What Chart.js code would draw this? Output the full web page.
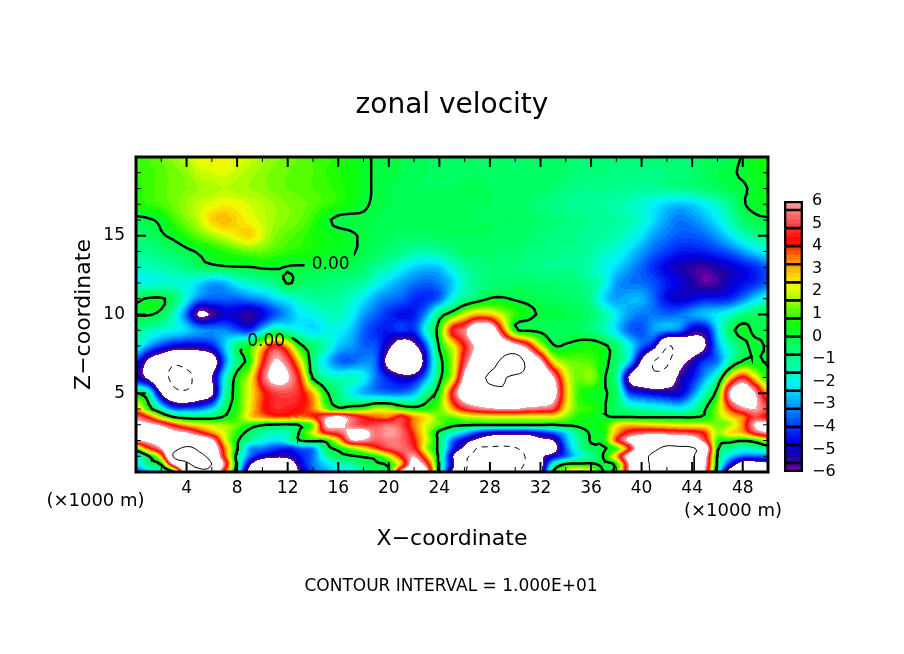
<!DOCTYPE html>
<html>
<head>
<meta charset="utf-8">
<title>zonal velocity</title>
<script src="https://cdn.jsdelivr.net/npm/chart.js@4"></script>
<style>
  html, body { margin: 0; background: #fff; }
  #wrap { position: relative; width: 904px; height: 654px; overflow: hidden; }
  #field { position: absolute; left: 0; top: 0; }
  #bar { position: absolute; left: 770px; top: 190px; }
</style>
</head>
<body>
<div id="wrap">
  <canvas id="field" width="904" height="654"></canvas>
  <canvas id="bar" width="70" height="295"></canvas>
</div>
<script>
// grid, x and z in km
const xCoords = [0,1,2,3,4,5,6,7,8,9,10,11,12,13,14,15,16,17,18,19,20,21,22,23,24,25,26,27,28,29,30,31,32,33,34,35,36,37,38,39,40,41,42,43,44,45,46,47,48,49,50];
const zCoords = [0,0.5,1,1.5,2,2.5,3,3.5,4,5,6,7,8,9,10,11,12,13,14,15,16,17,18,19,20];

// one row per zCoords entry, 51 values (x = 0..50)
const z00 = [-4,-2.8,-1.6,.1,8,9.6,9,4,-1,-7, -9,-9.5,-8.5,-5.6,-3.8,-3,-2.4,-2.4,-1.2,-.6, -.1,6.4,8,6.5,-.4,-6,-9.8,-10.5,-11,-11.2, -10.4,-9,-6.4,.1,2,3,2.4,-.1,.5,6, 9,10.3,11,11,10.5,6,-1,-7,-8,-8, -7.5];
const z05 = [-2.4,-.6,.2,6.5,9.5,10.5,10,5.5,-.4,-5.5, -8,-8.5,-7.6,-5,-3.4,-2.4,-1.6,-1.2,-.4,-.1, .3,3,7,5,-.6,-5,-9.6,-10.6,-11,-11.2, -10.8,-9.5,-7,-1.8,.1,.2,.2,-.2,.4,6, 9,10.5,11.5,11.5,10.5,6.5,-.3,-4.4,-7,-7, -6.5];
const z10 = [-2,-.1,3,10.5,11,10.5,9,4,-.5,-3.4, -5,-5.5,-5.5,-4.4,-3.4,-1.4,-.4,-.1,.1,.5, 2,4.4,6,3,-.4,-5.5,-9.4,-10.6,-11,-11, -10.8,-9.6,-6.5,-5,-3.6,-2,-1,.1,3,7, 9,10.6,11,11,10.4,7,-.2,-2.4,-3.5,-3.6, -3.3];
const z15 = [1,4,6,9,10.5,9.5,8,3.6,.1,-3, -3.4,-4,-4.4,-3.6,-3.2,-.5,.3,1.4,2.4,3.8, 5,5.4,4.6,1.6,-.4,-4,-6.5,-10.2,-10.5,-10.6, -10.2,-9,-8,-7,-3.6,-1.4,-.3,-.1,.8,4, 8,9.5,10.5,10.5,10.3,8,.3,-1,-1.6,-1.3, -1];
const z20 = [6,6.5,7,7.5,8,8,6.5,2.4,.2,-1.2, -1.8,-2.4,-1.6,.05,.3,.3,2.5,5.8,5.8,5.2, 5.5,5.3,4.2,2,-.4,-3.5,-5,-6.5,-7.5,-8, -8,-7.5,-6.5,-6,-3,-1.2,.1,.4,4,6.5, 8,8.5,8.5,8,7.5,5,.8,.4,.1,.5, 2];
const z25 = [7.5,8,7.5,6.5,6,4.6,3.2,2,.7,-.4, -1.2,-1.4,-1.4,.2,2,4.4,5,6.4,6.6,5.4, 6,5.4,3.8,1.8,-.3,-1.4,-2.6,-4,-4.8,-5, -5,-5,-4.4,-3.6,-2.4,-.6,.1,.4,3,4.6, 5.2,5.4,5.2,5,4.8,4,1.6,2.6,3,5, 6];
const z30 = [6.5,6.5,5.6,4,2.8,2.2,1.8,1.6,1.2,.6, .1,-.1,-.2,.1,1.2,6,6.5,5.5,4.8,5, 5.4,5,3.4,2,1.2,.3,.2,.1,.1,.1, .1,.1,.1,.05,.2,.2,.3,.6,2.2,2.8, 2.6,2.4,2.2,2,2,2,1.2,1.6,3.4,6.2, 7];
const z35 = [5.6,4,1.6,-.1,-.6,-.7,-.5,.1,.9,2.6, 3.3,3.8,3.8,3.5,4,5.6,6.4,5.2,4.2,3.6, 3.4,4.6,3.2,2.4,1.2,1.2,1.8,2,2.2,2.2, 2.2,2.2,2.2,2.2,1.4,.6,.3,.1,-.05,-.05, -.1,-.1,-.1,-.1,-.1,.2,1.4,2.6,3.4,5, 4];
const z40 = [3,.6,-1.6,-3.5,-3.6,-3.4,-2.4,-.5,.7,2.4, 4,4.6,4.5,4.2,3.4,1.4,.2,.6,.9,1.8, 1.7,.9,.4,.6,1.2,3,4.6,5.4,5.8,6, 6,5.6,5.4,5,2.4,1,.8,.1,-.5,-1, -1.4,-1.6,-1.8,-2,-1.4,-.1,1.5,4,5.6,6, 5];
const z50 = [.1,-1.2,-6,-9,-9.5,-8,-6.5,-1.6,.6,2.2, 3.9,4.8,5,4.5,3,.3,-.8,-2,-2.8,-3.2, -3.4,-3.4,-2.8,-.8,.6,4.5,7.5,8.5,9,9.5, 9.5,9,8.5,7,3,.8,.3,.05,-.5,-3.8, -4.4,-4.8,-5,-5,-3.4,-1.4,.6,6.2,8,6, 3];
const z60 = [-5,-6.5,-9,-10.5,-10.5,-9,-6,-2,.5,2, 5,6.8,6.2,4,-.2,-1.2,-1.6,-1.4,-2,-3.4, -4.4,-5.2,-5,-3,-.3,1.8,6.5,9,10.3,10.2, 9.5,9.5,9,6.2,2.5,1.2,1.6,.1,-1,-6.2, -8,-9,-8,-5.5,-4.5,-3,-1.2,2.5,4.5,2.4, .6];
const z70 = [-4,-6.5,-8,-9.5,-9,-8.5,-7.5,-3.5,-.8,.6, 4,6.2,5.2,2.4,-.8,-2.4,-3.5,-3.6,-3.2,-3.6, -7,-9,-9,-4.4,-.5,1.5,5,7.5,9,10.5, 12,9,6.5,2.5,1.4,1.2,1,.3,-.6,-2.4, -6.3,-10.2,-10.6,-7,-5.4,-4,-3.4,-1.2,.1,.2, -.1];
const z80 = [-1.6,-3,-4,-4.8,-5,-5,-4.4,-2.6,-.5,.6, 2.6,4.6,3,.3,-.6,-1.4,-2.6,-3,-3.6,-3.8, -5.5,-7.5,-6.5,-3.6,.2,2,4.4,6.5,8,8, 7,5,2,.1,.1,.3,.5,.2,-.6,-2, -3.6,-5,-9.9,-9,-7.5,-6.2,-3,-1.4,-.3,.2, -.1];
const z90 = [-1,-1.4,-1.8,-2,-2.4,-3,-3.2,-3.2,-3.8,-4.2, -2.4,-1,-1.6,-2,-2.4,-2,-2,-2.6,-3.6,-4.2, -4.4,-4,-4.2,-1.6,.6,4.5,5.6,8,8,4, .3,-.1,-.2,-.3,-.3,-.4,-.8,-1.4,-2.4,-3.6, -3.8,-3,-3,-3.4,-5,-5,-2.4,-.4,.3,-.2, -.2];
const z100 = [.05,.05,-.3,-1.6,-3.6,-6.4,-5.8,-5,-5.1,-5.6, -4.8,-3.8,-3,-2.2,-2,-1.6,-1.5,-2,-3,-3.6, -4.2,-4.6,-4.4,-3,-.6,.6,2,3,2.8,1.8, .8,.3,-.1,-.1,-.2,-.3,-.6,-1.2,-2.2,-3, -3.4,-3.4,-3.6,-3.4,-3,-2.6,-2.2,-1.6,-.8,-.5, -.2];
const z110 = [-.2,.1,.1,-.5,-2,-3.3,-3.6,-3.6,-3.6,-3.3, -3,-2.4,-2,-1.4,-1.2,-1.1,-1.2,-1.6,-2.2,-3, -3.4,-3.6,-4.2,-4.2,-3.6,-2,-1,-.5,.05,.1, -.1,-.2,-.3,-.4,-.5,-.6,-1,-2.4,-3,-2.8, -2.8,-3.6,-4.6,-5,-4.8,-4.4,-4.4,-4.2,-3.4,-2.4, -1.7];
const z120 = [-2,-1.9,-1.8,-1.8,-1.9,-2.4,-3,-2.8,-2,-1.6, -1.2,-.9,.1,-.5,-.6,-.7,-.8,-1,-1.2,-1.9, -2.5,-3,-3.4,-3.6,-3.3,-2.6,-1.5,-1,-.7,-.6, -.5,-.5,-.6,-.6,-.7,-.8,-1.1,-1.7,-3,-3.4, -3.5,-3.8,-4.4,-4.8,-5.3,-5.8,-5.6,-5,-4.6,-4.2, -3.6];
const z130 = [-1.7,-1.5,-1.3,-1.1,-.8,-.4,-.2,-.1,-.05,-.03, .1,.1,-.05,-.1,-.1,-.2,-.3,-.3,-.5,-1.1, -1.4,-2,-2.5,-2.7,-2.6,-1.8,-1.2,-.9,-.7,-.7, -.8,-.9,-1,-1,-1,-1.1,-1.4,-1.9,-2.4,-3, -3.6,-4.2,-4.8,-5.2,-5.5,-5.6,-5.3,-5,-4.6,-4.2, -3.6];
const z140 = [-1,-.9,-.7,-.5,-.2,.1,.4,.7,1,1.2, 1.2,1,.8,.7,.5,.3,.2,.1,-.2,-.4, -.7,-.9,-1.2,-1.3,-1.1,-.9,-.5,-.5,-.5,-.6, -.6,-.7,-.8,-.9,-1,-1,-1.2,-1.5,-1.8,-2.4, -3,-3.6,-4,-4.4,-4.4,-4.3,-4,-3.6,-3,-2.4, -2];
const z150 = [-.6,-.5,-.1,.2,.7,1.2,1.6,2,2.4,2.7, 2,1.4,1.1,.9,.6,.4,.3,.1,-.1,-.3, -.4,-.5,-.5,-.5,-.4,-.4,-.4,-.4,-.4,-.5, -.5,-.6,-.7,-.8,-.9,-1,-1.1,-1.2,-1.4,-1.7, -2.3,-3,-3.4,-3.7,-3.7,-3.5,-3,-2.3,-1.5,-1, -.8];
const z160 = [-.2,-.1,.2,.9,1.4,1.9,2.7,3,2.6,2.2, 1.9,1.6,1.4,1.2,.8,.2,-.2,-.2,-.1,-.2, -.3,-.3,-.3,-.3,-.4,-.3,-.3,-.4,-.4,-.4, -.4,-.5,-.6,-.7,-.8,-.9,-1,-1.1,-1.2,-1.4, -1.7,-2.4,-3,-3.4,-3.2,-2.8,-2.2,-1.4,-.6,-.2, -.1];
const z170 = [.6,.8,1,1.3,1.6,1.9,2.1,2.3,2.2,2, 1.8,1.6,1.4,1.3,1.1,.9,.7,.4,.1,-.1, -.2,-.3,-.3,-.3,-.3,-.3,-.4,-.4,-.4,-.5, -.5,-.6,-.7,-.9,-1,-1.1,-1.1,-1.2,-1.3,-1.5, -1.8,-2.1,-2.5,-2.7,-2.5,-2.1,-1.6,-1,-.1,.2, .3];
const z180 = [.7,.9,1.1,1.3,1.4,1.6,1.7,1.8,1.7,1.6, 1.5,1.3,1.2,1.1,1,.9,.7,.5,.2,-.1, -.2,-.3,-.4,-.4,-.4,-.4,-.3,-.3,-.4,-.5, -.5,-.5,-.5,-.6,-.8,-.9,-1,-.9,-1,-1, -1.1,-1.1,-1,-.9,-.8,-.6,-.4,-.2,-.1,.2, .4];
const z190 = [.8,.9,1.1,1.3,1.5,1.9,2,2.1,1.9,1.7, 1.5,1.3,1.2,1.1,1,.8,.6,.5,.2,-.1, -.1,-.2,-.3,-.4,-.4,-.5,-.5,-.4,-.5,-.5, -.6,-.5,-.4,-.5,-.6,-.7,-.7,-.8,-.9,-.9, -.9,-.9,-.8,-.7,-.6,-.4,-.2,-.1,.1,.3, .5];
const z200 = [.8,1,1.2,1.5,1.8,2.2,2.3,2.3,2.2,1.9, 1.7,1.5,1.3,1.2,1,.9,.7,.5,.2,-.1, -.1,-.2,-.3,-.4,-.5,-.5,-.5,-.5,-.5,-.6, -.6,-.5,-.5,-.6,-.6,-.6,-.6,-.7,-.7,-.7, -.7,-.7,-.7,-.7,-.6,-.4,-.3,-.2,.05,.4, .6];
const velocity = [z00,z05,z10,z15,z20,z25,z30,z35,z40,z50,z60,z70,z80,z90,z100,z110,z120,z130,z140,z150,z160,z170,z180,z190,z200];

const xMajorTicks = [4,8,12,16,20,24,28,32,36,40,44,48];
const xMinorTicks = [2,6,10,14,18,22,26,30,34,38,42,46];
const zMajorTicks = [5,10,15];
const zMinorTicks = [1,2,3,4,6,7,8,9,11,12,13,14,16,17,18,19];
const contourLevels = [0, 10, -10];
const barLabels = [6,5,4,3,2,1,0,-1,-2,-3,-4,-5,-6];
const barBoxEdges = [-6,-5.6,-4.8,-4,-3.2,-2.4,-1.6,-0.8,0,0.8,1.6,2.4,3.2,4,4.8,5.6,6];
const colorStops = [
  [-6,'#7a00a8'],[-5.4,'#1c00a0'],[-4.7,'#0000e6'],[-4,'#0038ff'],[-3,'#00a0ff'],[-2.2,'#00f0ff'],
  [-1.4,'#00ffb0'],[0,'#00ff38'],[0.6,'#10ff00'],[1.4,'#80ff00'],[2.2,'#f0ff00'],[2.8,'#ffc800'],
  [3.6,'#ff6a00'],[4.2,'#ff0000'],[5,'#ff4848'],[6,'#ffa8a8']
];
const labelGaps = [[13.5,17.2,12.8,13.8],[8.4,12.1,7.9,9]];

const BAND = 0.2;
const REFINE = 3;

function hexToRgb(h) {
  return [parseInt(h.slice(1,3),16), parseInt(h.slice(3,5),16), parseInt(h.slice(5,7),16)];
}

// color of a value, in 0.2 wide bands like the original plot
function bandColor(v) {
  if (v > 6 || v < -6) return [255,255,255];
  const mid = Math.min(Math.floor(v / BAND), 29) * BAND + BAND / 2;
  for (let i = 0; i < colorStops.length - 1; i++) {
    const a = colorStops[i], b = colorStops[i+1];
    if (mid <= b[0]) {
      const t = (mid - a[0]) / (b[0] - a[0]);
      const ca = hexToRgb(a[1]), cb = hexToRgb(b[1]);
      return ca.map((c, k) => Math.round(c + (cb[k] - c) * t));
    }
  }
  return hexToRgb(colorStops[colorStops.length-1][1]);
}

function findCell(arr, v) {
  let i = 0;
  while (i < arr.length - 2 && v > arr[i+1]) i++;
  return i;
}

function cubic(p0, p1, p2, p3, t) {
  return 0.5 * (2*p1 + (p2-p0)*t + (2*p0-5*p1+4*p2-p3)*t*t + (3*p1-p0-3*p2+p3)*t*t*t);
}

// contouring resolution only: rounds the read grid the way a contour plot does
function refineAxis(arr) {
  const out = [];
  for (let i = 0; i < arr.length - 1; i++) {
    for (let k = 0; k < REFINE; k++) out.push(arr[i] + (arr[i+1] - arr[i]) * k / REFINE);
  }
  out.push(arr[arr.length-1]);
  return out;
}
const fineX = refineAxis(xCoords);
const fineZ = refineAxis(zCoords);
const fineV = fineZ.map((_, fj) => {
  const j = Math.min(Math.floor(fj / REFINE), zCoords.length - 2), tz = fj / REFINE - j;
  return fineX.map((_, fi) => {
    const i = Math.min(Math.floor(fi / REFINE), xCoords.length - 2), tx = fi / REFINE - i;
    const col = r => {
      const row = velocity[Math.max(0, Math.min(zCoords.length - 1, r))];
      return cubic(row[Math.max(0, i-1)], row[i], row[i+1], row[Math.min(xCoords.length - 1, i+2)], tx);
    };
    return cubic(col(j-1), col(j), col(j+1), col(j+2), tz);
  });
});

// marching squares, segments chained to polylines
function contourLines(level) {
  const segs = [];
  for (let j = 0; j < fineZ.length - 1; j++) {
    for (let i = 0; i < fineX.length - 1; i++) {
      const a = fineV[j][i], b = fineV[j][i+1], c = fineV[j+1][i+1], d = fineV[j+1][i];
      const pts = [];
      const cross = (p, q, key, f) => {
        if ((p >= level) !== (q >= level)) pts.push({key, ...f((level - p) / (q - p))});
      };
      cross(a, b, 'h'+i+'_'+j, t => ({x: fineX[i] + t*(fineX[i+1]-fineX[i]), y: fineZ[j]}));
      cross(b, c, 'v'+(i+1)+'_'+j, t => ({x: fineX[i+1], y: fineZ[j] + t*(fineZ[j+1]-fineZ[j])}));
      cross(d, c, 'h'+i+'_'+(j+1), t => ({x: fineX[i] + t*(fineX[i+1]-fineX[i]), y: fineZ[j+1]}));
      cross(a, d, 'v'+i+'_'+j, t => ({x: fineX[i], y: fineZ[j] + t*(fineZ[j+1]-fineZ[j])}));
      if (pts.length === 2) segs.push([pts[0], pts[1]]);
      if (pts.length === 4) {
        const high = (a + b + c + d) / 4 >= level;
        if (high === (a >= level)) { segs.push([pts[0], pts[1]]); segs.push([pts[2], pts[3]]); }
        else { segs.push([pts[0], pts[3]]); segs.push([pts[1], pts[2]]); }
      }
    }
  }
  const byKey = {};
  segs.forEach(s => s.forEach(p => (byKey[p.key] = byKey[p.key] || []).push(s)));
  const out = [];
  segs.forEach(s => {
    if (s.used) return;
    s.used = true;
    const line = [s[0], s[1]];
    for (;;) {
      const last = line[line.length-1];
      const next = byKey[last.key].find(n => !n.used);
      if (!next) break;
      next.used = true;
      line.push(next[0].key === last.key ? next[1] : next[0]);
    }
    for (;;) {
      const first = line[0];
      const prev = byKey[first.key].find(n => !n.used);
      if (!prev) break;
      prev.used = true;
      line.unshift(prev[0].key === first.key ? prev[1] : prev[0]);
    }
    line.forEach(p => {
      const hidden = level === 0 && labelGaps.some(g => p.x > g[0] && p.x < g[1] && p.y > g[2] && p.y < g[3]);
      out.push(hidden ? {x: NaN, y: NaN} : {x: p.x, y: p.y});
    });
    out.push({x: NaN, y: NaN});
  });
  return out;
}

// filled bands, looked up per pixel through the chart's own scales
const fieldFill = {
  id: 'fieldFill',
  beforeDatasetsDraw(chart) {
    const {ctx, chartArea: area, scales} = chart;
    const w = Math.round(area.right - area.left), h = Math.round(area.bottom - area.top);
    const off = document.createElement('canvas');
    off.width = w; off.height = h;
    const octx = off.getContext('2d');
    const img = octx.createImageData(w, h);
    const cellX = [], tX = [];
    for (let px = 0; px < w; px++) {
      const x = scales.x.getValueForPixel(area.left + px + 0.5);
      const i = findCell(fineX, x);
      cellX.push(i);
      tX.push((x - fineX[i]) / (fineX[i+1] - fineX[i]));
    }
    for (let py = 0; py < h; py++) {
      const z = scales.y.getValueForPixel(area.top + py + 0.5);
      const j = findCell(fineZ, z);
      const tz = (z - fineZ[j]) / (fineZ[j+1] - fineZ[j]);
      for (let px = 0; px < w; px++) {
        const i = cellX[px], tx = tX[px];
        const v = (1-tz) * ((1-tx) * fineV[j][i] + tx * fineV[j][i+1])
                + tz * ((1-tx) * fineV[j+1][i] + tx * fineV[j+1][i+1]);
        const rgb = bandColor(v);
        const o = (py * w + px) * 4;
        img.data[o] = rgb[0]; img.data[o+1] = rgb[1]; img.data[o+2] = rgb[2]; img.data[o+3] = 255;
      }
    }
    octx.putImageData(img, 0, 0);
    ctx.drawImage(off, area.left, area.top);
  }
};

// frame, inward ticks and the loose labels
const frameAndNotes = {
  id: 'frameAndNotes',
  afterDatasetsDraw(chart) {
    const {ctx, chartArea: area, scales} = chart;
    ctx.save();
    ctx.strokeStyle = '#000';
    ctx.lineWidth = 2;
    const tickX = (v, len) => {
      const p = scales.x.getPixelForValue(v);
      ctx.beginPath();
      ctx.moveTo(p, area.top); ctx.lineTo(p, area.top + len);
      ctx.moveTo(p, area.bottom); ctx.lineTo(p, area.bottom - len);
      ctx.stroke();
    };
    const tickZ = (v, len) => {
      const p = scales.y.getPixelForValue(v);
      ctx.beginPath();
      ctx.moveTo(area.left, p); ctx.lineTo(area.left + len, p);
      ctx.moveTo(area.right, p); ctx.lineTo(area.right - len, p);
      ctx.stroke();
    };
    xMajorTicks.forEach(v => tickX(v, 10));
    zMajorTicks.forEach(v => tickZ(v, 10));
    ctx.lineWidth = 1;
    xMinorTicks.forEach(v => tickX(v, 5));
    zMinorTicks.forEach(v => tickZ(v, 5));
    ctx.lineWidth = 3;
    ctx.strokeRect(area.left, area.top, area.right - area.left, area.bottom - area.top);

    ctx.fillStyle = '#000';
    ctx.textBaseline = 'middle';
    ctx.textAlign = 'center';
    ctx.font = '17px "DejaVu Sans"';
    ctx.fillText('0.00', scales.x.getPixelForValue(15.4), scales.y.getPixelForValue(13.15));
    ctx.fillText('0.00', scales.x.getPixelForValue(10.3), scales.y.getPixelForValue(8.3));
    ctx.font = '18px "DejaVu Sans"';
    ctx.fillText('(\u00d71000 m)', 95.5, 501);
    ctx.fillText('(\u00d71000 m)', 733, 511);
    ctx.font = '17px "DejaVu Sans"';
    ctx.fillText('CONTOUR INTERVAL = 1.000E+01', 451, 587);
    ctx.restore();
  }
};

const lineStyles = {
  '0': {borderWidth: 2.5, borderDash: []},
  '10': {borderWidth: 1, borderDash: []},
  '-10': {borderWidth: 1, borderDash: [6, 5]}
};

new Chart(document.getElementById('field'), {
  type: 'scatter',
  data: {
    datasets: contourLevels.map(level => ({
      label: 'contour ' + level,
      data: contourLines(level),
      showLine: true,
      spanGaps: false,
      pointRadius: 0,
      borderColor: '#000',
      tension: 0,
      ...lineStyles[level]
    }))
  },
  options: {
    responsive: false,
    animation: false,
    devicePixelRatio: 1,
    layout: {autoPadding: false},
    plugins: {
      legend: {display: false},
      tooltip: {enabled: false},
      title: {
        display: true,
        text: 'zonal velocity',
        color: '#000',
        font: {family: '"DejaVu Sans"', size: 28, weight: 'normal'},
        padding: {top: 89, bottom: 34.4}
      }
    },
    scales: {
      x: {
        type: 'linear',
        min: 0,
        max: 50,
        afterBuildTicks: s => { s.ticks = xMajorTicks.map(value => ({value})); },
        afterFit: s => { s.height = 182; s.paddingLeft = 0; s.paddingRight = 0; },
        grid: {display: false, drawTicks: false},
        border: {display: false},
        ticks: {
          maxRotation: 0,
          autoSkip: false,
          padding: 6,
          color: '#000',
          font: {family: '"DejaVu Sans"', size: 17}
        },
        title: {
          display: true,
          text: 'X\u2212coordinate',
          color: '#000',
          font: {family: '"DejaVu Sans"', size: 22},
          padding: {top: 0, bottom: 102}
        }
      },
      y: {
        type: 'linear',
        min: 0,
        max: 20,
        afterBuildTicks: s => { s.ticks = zMajorTicks.map(value => ({value})); },
        afterFit: s => { s.width = 136; s.paddingTop = 0; s.paddingBottom = 0; },
        grid: {display: false, drawTicks: false},
        border: {display: false},
        ticks: {
          autoSkip: false,
          padding: 11,
          color: '#000',
          font: {family: '"DejaVu Sans"', size: 17}
        },
        title: {
          display: true,
          text: 'Z\u2212coordinate',
          color: '#000',
          font: {family: '"DejaVu Sans"', size: 22},
          padding: {top: 71, bottom: 0}
        }
      },
      // empty axis, only reserves the room of the colour bar
      side: {
        type: 'linear',
        position: 'right',
        afterFit: s => { s.width = 136; s.paddingTop = 0; s.paddingBottom = 0; },
        grid: {display: false, drawTicks: false},
        border: {display: false},
        ticks: {display: false}
      }
    }
  },
  plugins: [fieldFill, frameAndNotes]
});

// colour bar: black boxes over the thin bands (first dataset is drawn on top)
const boxes = barBoxEdges.slice(0, -1).map((lo, i) => ({
  data: [[lo, barBoxEdges[i+1]]],
  backgroundColor: 'rgba(0,0,0,0)',
  borderColor: '#000',
  borderWidth: 1,
  borderSkipped: false
}));
const barFrame = {
  data: [[-6, 6]],
  backgroundColor: 'rgba(0,0,0,0)',
  borderColor: '#000',
  borderWidth: 2,
  borderSkipped: false
};
const fineBands = [];
for (let k = -30; k < 30; k++) {
  const lo = k * BAND, hi = (k + 1) * BAND;
  fineBands.push({
    data: [[lo, hi]],
    backgroundColor: 'rgb(' + bandColor(lo + 0.01).join(',') + ')',
    borderWidth: 0
  });
}

new Chart(document.getElementById('bar'), {
  type: 'bar',
  data: {labels: ['v'], datasets: [barFrame].concat(boxes, fineBands)},
  options: {
    responsive: false,
    animation: false,
    devicePixelRatio: 1,
    layout: {autoPadding: false, padding: {left: 14, top: 11, bottom: 13}},
    datasets: {bar: {grouped: false, barPercentage: 1, categoryPercentage: 1}},
    plugins: {legend: {display: false}, tooltip: {enabled: false}},
    scales: {
      x: {display: false},
      y: {
        position: 'right',
        min: -6,
        max: 6,
        afterBuildTicks: s => { s.ticks = barLabels.map(value => ({value})); },
        afterFit: s => { s.width = 37; s.paddingTop = 0; s.paddingBottom = 0; },
        grid: {display: false, drawTicks: false},
        border: {display: false},
        ticks: {
          autoSkip: false,
          padding: 9,
          color: '#000',
          font: {family: '"DejaVu Sans"', size: 16},
          callback: v => String(v).replace('-', '\u2212')
        }
      }
    }
  }
});
</script>
</body>
</html>
